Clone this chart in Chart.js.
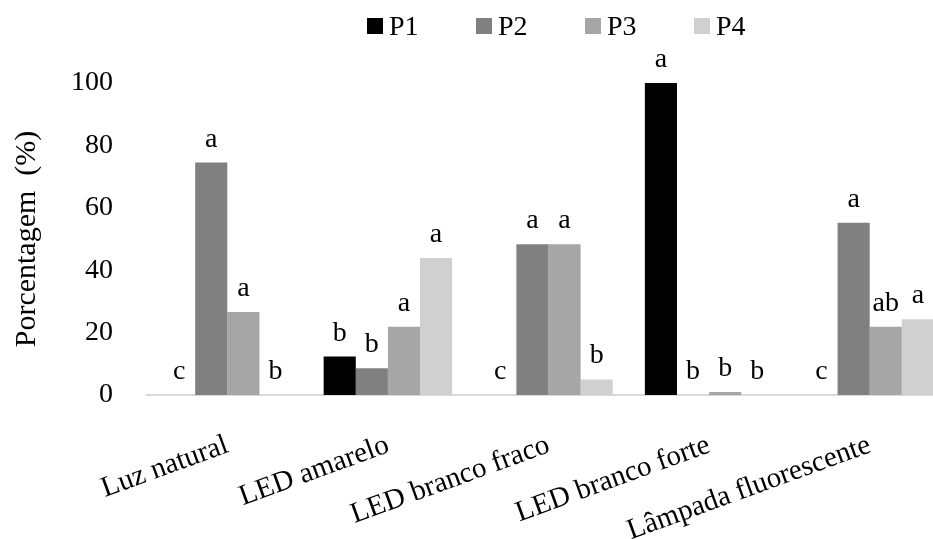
<!DOCTYPE html>
<html>
<head>
<meta charset="utf-8">
<script src="https://cdn.jsdelivr.net/npm/chart.js@4.4.1/dist/chart.umd.min.js"></script>
<style>
  html, body { margin: 0; padding: 0; background: #fff; overflow: hidden; }
  #wrap { position: relative; width: 950px; height: 539px; }
  #legend { position: absolute; left: 367px; top: 10px; display: flex; font-family: 'Liberation Serif', serif; font-size: 28px; color: #000; }
  .lg-item { display: flex; align-items: center; width: 109px; height: 32px; }
  .lg-box { width: 16px; height: 16px; margin-right: 6px; }
</style>
</head>
<body>
<div id="wrap">
  <canvas id="chart" width="950" height="539"></canvas>
  <div id="legend"></div>
</div>
<script>
  // Data
  const categories = ['Luz natural', 'LED amarelo', 'LED branco fraco', 'LED branco forte', 'Lâmpada fluorescente'];
  const seriesNames = ['P1', 'P2', 'P3', 'P4'];
  const p1 = [0, 12.3, 0, 100, 0];
  const p2 = [74.5, 8.6, 48.3, 0, 55.2];
  const p3 = [26.6, 21.9, 48.3, 1, 21.9];
  const p4 = [0, 43.9, 5, 0, 24.3];
  const p1Letters = ['c', 'b', 'c', 'a', 'c'];
  const p2Letters = ['a', 'b', 'a', 'b', 'a'];
  const p3Letters = ['a', 'a', 'a', 'b', 'ab'];
  const p4Letters = ['b', 'a', 'b', 'b', 'a'];
  const yTicks = [0, 20, 40, 60, 80, 100];

  const COLORS = ['#000000', '#808080', '#a6a6a6', '#d0d0d0'];
  const FONT = 'Liberation Serif';
  const values = [p1, p2, p3, p4];
  const letters = [p1Letters, p2Letters, p3Letters, p4Letters];

  // HTML legend
  document.getElementById('legend').innerHTML = seriesNames.map((n, i) => `
    <div class="lg-item"><div class="lg-box" style="background:${COLORS[i]}"></div><span>${n}</span></div>`).join('');

  // significance letters above each bar
  const letterPlugin = {
    id: 'letters',
    afterDatasetsDraw(chart) {
      const ctx = chart.ctx;
      ctx.save();
      ctx.font = `28px "${FONT}"`;
      ctx.fillStyle = '#000';
      ctx.textAlign = 'center';
      ctx.textBaseline = 'alphabetic';
      chart.data.datasets.forEach((ds, di) => {
        chart.getDatasetMeta(di).data.forEach((bar, i) => {
          ctx.fillText(letters[di][i], bar.x, bar.y - 16);
        });
      });
      ctx.restore();
    }
  };

  new Chart(document.getElementById('chart'), {
    type: 'bar',
    data: {
      labels: categories,
      datasets: seriesNames.map((n, i) => ({
        label: n,
        data: values[i],
        backgroundColor: COLORS[i],
        borderWidth: 0,
        barPercentage: 1,
        categoryPercentage: 0.8
      }))
    },
    options: {
      responsive: false,
      animation: false,
      layout: { padding: { top: 83, left: 0, right: 0, bottom: 0 } },
      plugins: { legend: { display: false }, tooltip: { enabled: false } },
      scales: {
        x: {
          grid: { display: true, drawOnChartArea: false, drawTicks: false },
          border: { display: true, color: '#d9d9d9', width: 2 },
          ticks: { color: '#000', font: { family: FONT, size: 29 }, minRotation: 20, maxRotation: 20, autoSkip: false, padding: 33 },
          afterFit(scale) { scale.height = 144; }
        },
        y: {
          min: 0, max: 100,
          afterBuildTicks(scale) { scale.ticks = yTicks.map(v => ({ value: v })); },
          grid: { display: false },
          border: { display: false },
          ticks: { color: '#000', font: { family: FONT, size: 28 }, padding: 26 },
          title: { display: true, text: 'Porcentagem  (%)', color: '#000', font: { family: FONT, size: 30 }, padding: { top: 9, bottom: 0 } },
          afterFit(scale) { scale.width = 147; }
        }
      }
    },
    plugins: [letterPlugin]
  });
</script>
</body>
</html>
